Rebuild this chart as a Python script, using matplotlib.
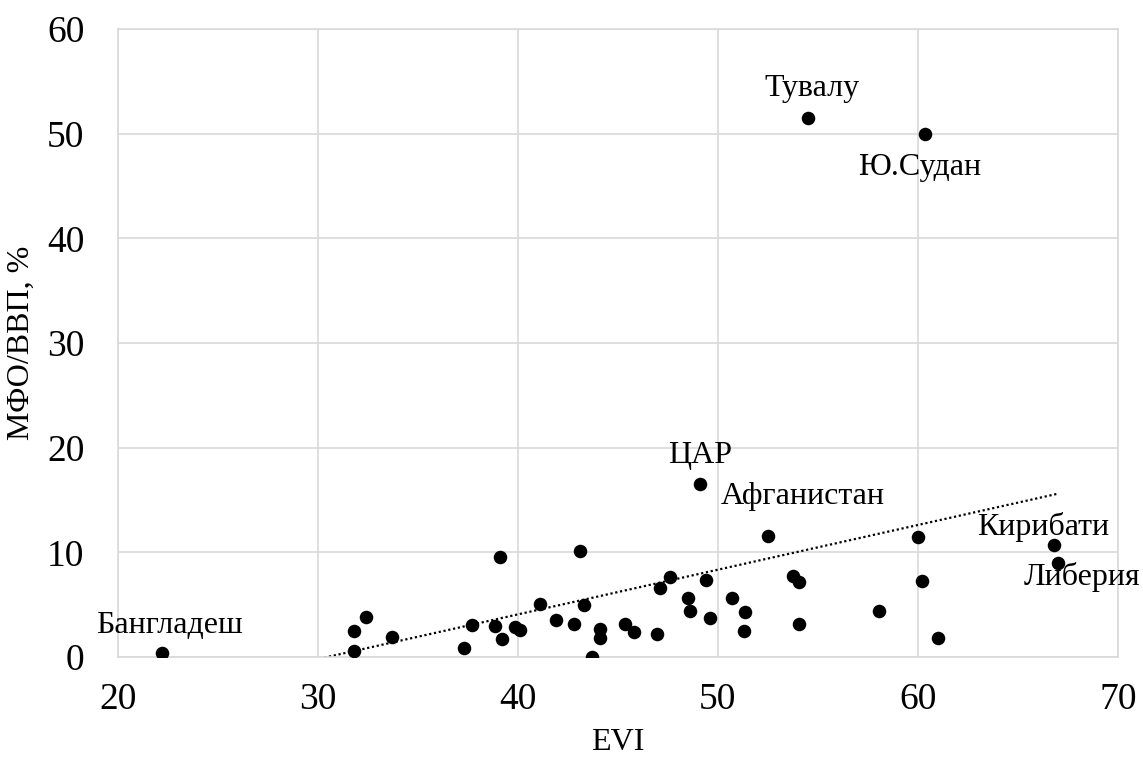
import numpy as np
import matplotlib
matplotlib.use("Agg")
import matplotlib.pyplot as plt

plt.rcParams['font.family'] = ['Liberation Serif', 'DejaVu Serif']

evi = [22.2, 31.8, 32.4, 31.8, 33.7, 37.3, 37.7, 39.1, 38.85, 39.2, 39.85, 40.1,
       41.1, 41.9, 42.8, 43.1, 43.3, 43.7, 44.1, 44.1, 45.35, 45.8, 46.95, 47.1,
       47.6, 48.5, 48.6, 49.1, 49.4, 49.6, 50.7, 51.35, 51.3, 52.5, 53.75, 54.05,
       54.05, 58.05, 60.0, 60.2, 61.0, 66.8, 67.0, 54.5, 60.35]
mfo = [0.4, 2.5, 3.8, 0.6, 1.9, 0.86, 3.06, 9.6, 3.0, 1.75, 2.9, 2.6,
       5.06, 3.5, 3.2, 10.1, 5.0, 0.0, 2.7, 1.8, 3.15, 2.4, 2.2, 6.6,
       7.6, 5.6, 4.4, 16.5, 7.4, 3.75, 5.6, 4.3, 2.5, 11.55, 7.7, 7.2,
       3.15, 4.4, 11.5, 7.3, 1.8, 10.7, 9.0, 51.5, 50.0]

labels = ["Бангладеш", "ЦАР", "Афганистан", "Кирибати", "Либерия", "Тувалу", "Ю.Судан"]
label_pos = [(22.55, 3.05), (49.1, 19.3), (54.25, 15.3), (66.25, 12.4), (68.2, 7.6), (54.7, 54.3), (60.1, 46.8)]

fig = plt.figure(figsize=(11.43, 7.6), dpi=100)
ax = fig.add_axes([0.1032, 0.1355, 0.8748, 0.8263])

ax.scatter(evi, mfo, s=95, color='black', zorder=3, linewidths=0)

k, b = np.polyfit(evi, mfo, 1)
xs = np.array([min(evi), max(evi)])
ax.plot(xs, k * xs + b, linestyle=(0, (1, 1.2)), color='black', linewidth=1.6, zorder=2)

for t, p in zip(labels, label_pos):
    ax.text(p[0], p[1], t, fontsize=23, ha='center', va='center', zorder=4)

ax.set_xlim(20, 70)
ax.set_ylim(0, 60)
ax.set_xticks([20, 30, 40, 50, 60, 70])
ax.set_yticks([0, 10, 20, 30, 40, 50, 60])
ax.grid(True, color='#d9d9d9', linewidth=1.2)
ax.set_axisbelow(True)
for s in ax.spines.values():
    s.set_color('#d9d9d9')
    s.set_linewidth(1.2)
ax.tick_params(length=0, labelsize=27, pad=18)
ax.tick_params(axis='y', pad=24)
ax.set_xlabel('EVI', fontsize=23, labelpad=8)
ax.set_ylabel('МФО/ВВП, %', fontsize=23, labelpad=8)

fig.savefig('out.png', dpi=100)
